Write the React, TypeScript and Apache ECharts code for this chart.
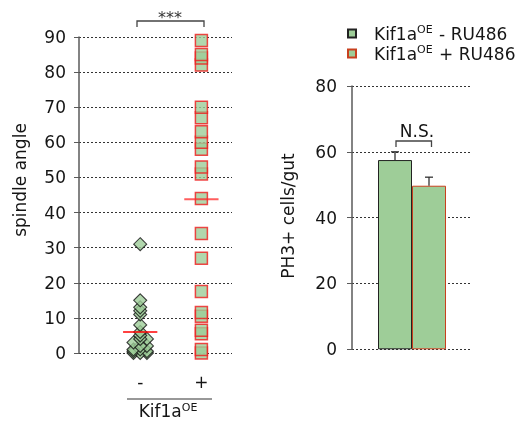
import React, { useEffect, useRef } from 'react';
import * as echarts from 'echarts';

// ---- data ----
const groups = ['-', '+'];
const minusAngles = [31, 15, 13, 12, 11, 8, 6, 5, 4, 4, 3, 2, 2, 1, 1, 0.5, 0.5, 0, 0, 0];
const plusAngles = [89, 85, 84, 82, 70, 67, 63, 60, 58, 53, 51, 44, 34, 27, 17.5, 11.5, 10.5, 6.5, 5.5, 1, 0];
const leftTicks = { min: 0, max: 90, step: 10 };
const barNames = ['Kif1aOE - RU486', 'Kif1aOE + RU486'];
const barMeans = [57.5, 49.7];
const barSems = [2.5, 2.6];
const rightTicks = { min: 0, max: 80, step: 20 };

const FONT = 'DejaVu Sans';
const GREEN = '#9ecd98';
const TXT = '#151515';
const AXIS = '#5a5a5a';
const GRIDC = '#333';

const mean = (a: number[]) => a.reduce((s, v) => s + v, 0) / a.length;

// simple beeswarm layout: spread low crowded values sideways
function swarm(values: number[], center: number) {
  const sorted = [...values].sort((a, b) => a - b);
  const pattern = [-0.11, 0.11, 0];
  let k = 0;
  return sorted.map((v) => {
    let off = 0;
    if (v < 5) {
      off = pattern[k % 3];
      k++;
    }
    return [center + off, v];
  });
}

export default function App() {
  const ref = useRef<HTMLDivElement>(null);
  useEffect(() => {
    if (!ref.current) return;
    const chart = echarts.init(ref.current, null, { renderer: 'svg' });
    const minusPts = swarm(minusAngles, 1);
    const plusPts = [...plusAngles].sort((a, b) => a - b).map((v) => [2, v]);
    const mMinus = mean(minusAngles);
    const mPlus = mean(plusAngles);

    const errData = barMeans.map((m, i) => [0, m, barSems[i], i]);

    const splitDash = { show: true, lineStyle: { color: GRIDC, type: [2, 2] as any, width: 1 } };

    chart.setOption({
      animation: false,
      grid: [
        { left: 79, top: 37, width: 153, height: 316 },
        { left: 352, top: 86, width: 120, height: 263.3 },
      ],
      xAxis: [
        {
          type: 'value',
          gridIndex: 0,
          min: 0,
          max: 2.5,
          interval: 1,
          axisLine: { show: false },
          axisTick: { show: false },
          splitLine: { show: false },
          axisLabel: {
            margin: 20,
            fontSize: 17,
            fontFamily: FONT,
            color: TXT,
            formatter: (v: number) => (v === 1 ? groups[0] : v === 2 ? groups[1] : ''),
          },
        },
        {
          type: 'category',
          gridIndex: 1,
          data: ['PH3'],
          axisLine: { show: false },
          axisTick: { show: false },
          axisLabel: { show: false },
        },
      ],
      yAxis: [
        {
          type: 'value',
          gridIndex: 0,
          min: leftTicks.min,
          max: leftTicks.max,
          interval: leftTicks.step,
          axisLine: { show: true, lineStyle: { color: AXIS, width: 1.5 } },
          axisTick: { show: true, length: 5, lineStyle: { color: AXIS, width: 1 } },
          axisLabel: { margin: 13, fontSize: 17, fontFamily: FONT, color: TXT },
          splitLine: splitDash,
        },
        {
          type: 'value',
          gridIndex: 1,
          min: rightTicks.min,
          max: rightTicks.max,
          interval: rightTicks.step,
          axisLine: { show: true, lineStyle: { color: AXIS, width: 1.5 } },
          axisTick: { show: true, length: 5, lineStyle: { color: AXIS, width: 1 } },
          axisLabel: { margin: 15, fontSize: 17, fontFamily: FONT, color: TXT },
          splitLine: splitDash,
        },
      ],
      legend: {
        orient: 'vertical',
        left: 347,
        top: 24,
        padding: 0,
        itemWidth: 8,
        itemHeight: 8,
        itemGap: 1,
        icon: 'rect',
        data: barNames,
        formatter: (name: string) => {
          const sign = name.includes('+') ? '+' : '-';
          return `{k|Kif1a}{s|OE}{t| ${sign} RU486}`;
        },
        textStyle: {
          color: TXT,
          fontFamily: FONT,
          fontSize: 17,
          lineHeight: 19,
          rich: {
            k: { fontSize: 17, fontFamily: FONT, color: TXT, padding: [0, 0, 0, 13], lineHeight: 19 },
            s: { fontSize: 11, fontFamily: FONT, color: TXT, lineHeight: 11, verticalAlign: 'top', padding: [0, 1, 0, 0] },
            t: { fontSize: 17, fontFamily: FONT, color: TXT, lineHeight: 19 },
          },
        },
      },
      series: [
        {
          type: 'scatter',
          xAxisIndex: 0,
          yAxisIndex: 0,
          symbol: 'diamond',
          symbolSize: 13,
          clip: false,
          itemStyle: { color: GREEN, borderColor: '#111', borderWidth: 1.1 },
          data: minusPts,
          z: 3,
        },
        {
          type: 'scatter',
          xAxisIndex: 0,
          yAxisIndex: 0,
          symbol: 'rect',
          symbolSize: 12,
          clip: false,
          itemStyle: { color: GREEN, borderColor: '#ee1c1c', borderWidth: 1.5 },
          data: plusPts,
          z: 3,
        },
        {
          type: 'line',
          xAxisIndex: 0,
          yAxisIndex: 0,
          symbol: 'none',
          lineStyle: { color: '#ff0000', width: 1.5 },
          data: [
            [0.72, mMinus],
            [1.28, mMinus],
          ],
          z: 5,
        },
        {
          type: 'line',
          xAxisIndex: 0,
          yAxisIndex: 0,
          symbol: 'none',
          lineStyle: { color: 'rgba(255,40,40,0.75)', width: 2 },
          data: [
            [1.72, mPlus],
            [2.28, mPlus],
          ],
          z: 5,
        },
        {
          name: barNames[0],
          type: 'bar',
          xAxisIndex: 1,
          yAxisIndex: 1,
          barWidth: 34,
          barGap: '0%',
          itemStyle: { color: GREEN, borderColor: '#222', borderWidth: 1 },
          data: [barMeans[0]],
        },
        {
          name: barNames[1],
          type: 'bar',
          xAxisIndex: 1,
          yAxisIndex: 1,
          barWidth: 34,
          barGap: '0%',
          itemStyle: { color: GREEN, borderColor: '#c8401e', borderWidth: 1 },
          data: [barMeans[1]],
        },
        {
          type: 'custom',
          xAxisIndex: 1,
          yAxisIndex: 1,
          data: errData,
          z: 4,
          renderItem: (params: any, api: any) => {
            const idx = api.value(3);
            const off = idx === 0 ? -17 : 17;
            const base = api.coord([api.value(0), api.value(1)]);
            const top = api.coord([api.value(0), api.value(1) + api.value(2)]);
            const x = base[0] + off;
            const st = { stroke: '#222', lineWidth: 1.2 };
            return {
              type: 'group',
              children: [
                { type: 'line', shape: { x1: x, y1: base[1], x2: x, y2: top[1] }, style: st },
                { type: 'line', shape: { x1: x - 4, y1: top[1], x2: x + 4, y2: top[1] }, style: st },
              ],
            };
          },
        },
      ],
      graphic: [
        {
          type: 'text',
          x: 20,
          y: 180,
          rotation: Math.PI / 2,
          style: { text: 'spindle angle', font: `17px "${FONT}"`, fill: TXT, textAlign: 'center', textVerticalAlign: 'middle' },
        },
        {
          type: 'text',
          x: 288,
          y: 216,
          rotation: Math.PI / 2,
          style: { text: 'PH3+ cells/gut', font: `17px "${FONT}"`, fill: TXT, textAlign: 'center', textVerticalAlign: 'middle' },
        },
        {
          type: 'polyline',
          shape: { points: [[137, 27], [137, 21], [204, 21], [204, 27]] },
          style: { stroke: '#444', lineWidth: 1.3, fill: null },
        },
        {
          type: 'text',
          x: 170,
          y: 17,
          style: { text: '***', font: `16px "${FONT}"`, fill: '#333', textAlign: 'center', textVerticalAlign: 'middle' },
        },
        {
          type: 'polyline',
          shape: { points: [[396, 147], [396, 141], [431.5, 141], [431.5, 147]] },
          style: { stroke: '#444', lineWidth: 1.3, fill: null },
        },
        {
          type: 'text',
          x: 417,
          y: 131,
          style: { text: 'N.S.', font: `17px "${FONT}"`, fill: TXT, textAlign: 'center', textVerticalAlign: 'middle' },
        },
        {
          type: 'line',
          shape: { x1: 127, y1: 399, x2: 212, y2: 399 },
          style: { stroke: '#333', lineWidth: 1.2 },
        },
        {
          type: 'text',
          x: 168,
          y: 411,
          style: {
            text: '{k|Kif1a}{s|OE}',
            textAlign: 'center',
            textVerticalAlign: 'middle',
            rich: {
              k: { fontSize: 17, fontFamily: FONT, fill: TXT, lineHeight: 19 },
              s: { fontSize: 11, fontFamily: FONT, fill: TXT, lineHeight: 11, verticalAlign: 'top' },
            },
          },
        },
      ],
    });
    return () => chart.dispose();
  }, []);
  return <div ref={ref} style={{ width: 526, height: 422, position: 'fixed', left: 0, top: 0 }} />;
}
